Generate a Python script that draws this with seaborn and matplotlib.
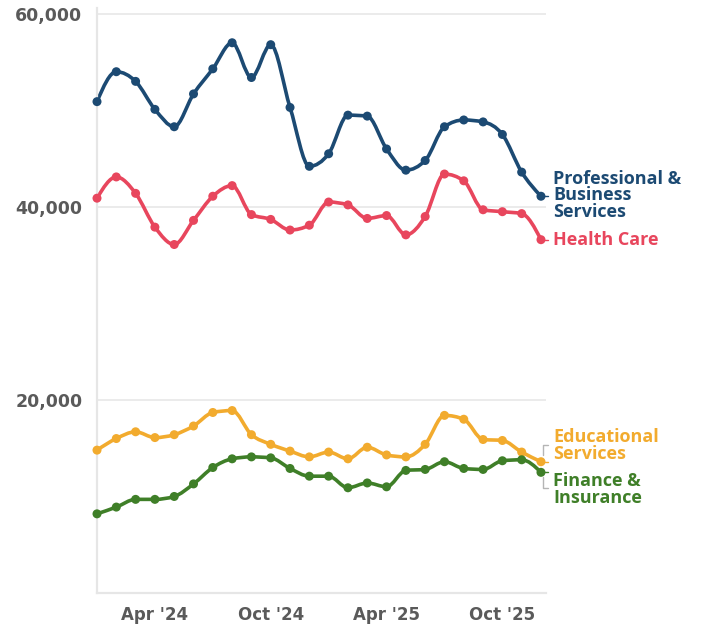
import numpy as np
import pandas as pd
import matplotlib
matplotlib.use("Agg")
import matplotlib.pyplot as plt
from matplotlib.path import Path
from matplotlib.patches import PathPatch
from matplotlib.ticker import FuncFormatter
import seaborn as sns

# Monthly job postings, Jan 2024 - Dec 2025
months = pd.date_range("2024-01-01", "2025-12-01", freq="MS")
professional = [50900, 54000, 53000, 50100, 48300, 51700, 54300, 57000, 53400, 56800, 50300, 44200,
                45500, 49500, 49400, 46000, 43800, 44800, 48300, 49000, 48800, 47500, 43600, 41100]
health_care = [40900, 43100, 41400, 37900, 36100, 38600, 41100, 42200, 39200, 38700, 37600, 38100,
               40500, 40200, 38800, 39100, 37100, 39000, 43400, 42700, 39700, 39500, 39300, 36600]
educational = [14800, 16000, 16700, 16100, 16400, 17300, 18700, 18900, 16400, 15400, 14700, 14100,
               14600, 13900, 15100, 14300, 14100, 15400, 18400, 18000, 15900, 15800, 14600, 13600]
finance = [8200, 8900, 9700, 9700, 10000, 11300, 13000, 13900, 14100, 14000, 12900, 12100,
           12100, 10900, 11400, 11000, 12700, 12800, 13600, 12900, 12800, 13700, 13800, 12500]

sectors = ["Professional &\nBusiness\nServices", "Health Care", "Educational\nServices", "Finance &\nInsurance"]
series = [professional, health_care, educational, finance]
colors = ["#1c4a73", "#e8465d", "#f2ab2e", "#3f7f28"]
# vertical position of each end label (value units)
label_y = [41200, 36600, 15300, 10700]

tick_months = [0, 3, 6, 9, 12, 15, 18, 21]
tick_labels = ["", "Apr '24", "", "Oct '24", "", "Apr '25", "", "Oct '25"]
y_ticks = [20000, 40000, 60000]

rows = []
for name, vals in zip(sectors, series):
    for i, v in enumerate(vals):
        rows.append({"idx": i, "value": v, "sector": name})
df = pd.DataFrame(rows)

sns.set_theme(style="white")
plt.rcParams["font.family"] = ["DejaVu Sans"]

fig = plt.figure(figsize=(7.02, 6.29), dpi=100)
W, H = 702, 629
ax = fig.add_axes([97 / W, 1 - 593 / H, (546 - 97) / W, (593 - 8) / H])


def monotone_path(x, y):
    x = np.asarray(x, float)
    y = np.asarray(y, float)
    n = len(x)
    h = np.diff(x)
    s = np.diff(y) / h
    t = np.zeros(n)
    for i in range(1, n - 1):
        p = (s[i - 1] * h[i] + s[i] * h[i - 1]) / (h[i - 1] + h[i])
        t[i] = (np.sign(s[i - 1]) + np.sign(s[i])) * min(abs(s[i - 1]), abs(s[i]), 0.5 * abs(p))
    t[0] = (3 * s[0] - t[1]) / 2
    t[-1] = (3 * s[-1] - t[-2]) / 2
    verts = [(x[0], y[0])]
    codes = [Path.MOVETO]
    for i in range(n - 1):
        dx = (x[i + 1] - x[i]) / 3
        verts += [(x[i] + dx, y[i] + dx * t[i]), (x[i + 1] - dx, y[i + 1] - dx * t[i + 1]), (x[i + 1], y[i + 1])]
        codes += [Path.CURVE4] * 3
    return Path(verts, codes)


xs = np.arange(len(months))
for vals, col in zip(series, colors):
    ax.add_patch(PathPatch(monotone_path(xs, vals), fill=False, edgecolor=col, lw=2.6,
                           capstyle="round", joinstyle="round", zorder=2))
    ax.plot([xs[-1], 23.35], [vals[-1], vals[-1]], color=col, lw=1.0, zorder=2, clip_on=False)

sns.scatterplot(data=df, x="idx", y="value", hue="sector", palette=colors, s=42,
                edgecolor="none", legend=False, zorder=3, ax=ax, clip_on=False)

ax.set_xlim(0, 23.26)
ax.set_ylim(0, 60600)
ax.set_xlabel("")
ax.set_ylabel("")

ax.set_xticks(tick_months)
ax.set_xticklabels(tick_labels)
ax.set_yticks(y_ticks)
ax.yaxis.set_major_formatter(FuncFormatter(lambda v, _: f"{int(v):,}"))

ax.grid(axis="y", color="#ebebeb", lw=1.4, zorder=0)
ax.grid(axis="x", visible=False)
for side in ["top", "right"]:
    ax.spines[side].set_visible(False)
for side in ["left", "bottom"]:
    ax.spines[side].set_color("#e6e6e6")
    ax.spines[side].set_linewidth(1.6)

ax.tick_params(axis="y", length=6.5, width=1.2, color="#e0e0e0", pad=4,
               labelsize=12.5, labelcolor="#5a5a5a")
ax.tick_params(axis="x", length=7, width=1.2, color="#e6e6e6", pad=2,
               labelsize=12, labelcolor="#5a5a5a")
for lbl in ax.get_xticklabels() + ax.get_yticklabels():
    lbl.set_fontweight("bold")

# end-of-line labels
for name, col, ly in zip(sectors, colors, label_y):
    ax.text(23.63, ly, name, color=col, fontsize=13, fontweight="bold", family="Open Sans",
            ha="left", va="center", linespacing=0.89, clip_on=False)

# brackets pointing the shifted labels back to their lines
bk = "#b5b5b5"
ax.plot([23.35, 23.12, 23.12], [15350, 15350, 14300], color=bk, lw=1.0, clip_on=False)
ax.plot([23.12, 23.12, 23.35], [12000, 10900, 10900], color=bk, lw=1.0, clip_on=False)

fig.savefig("out.png", dpi=100)
